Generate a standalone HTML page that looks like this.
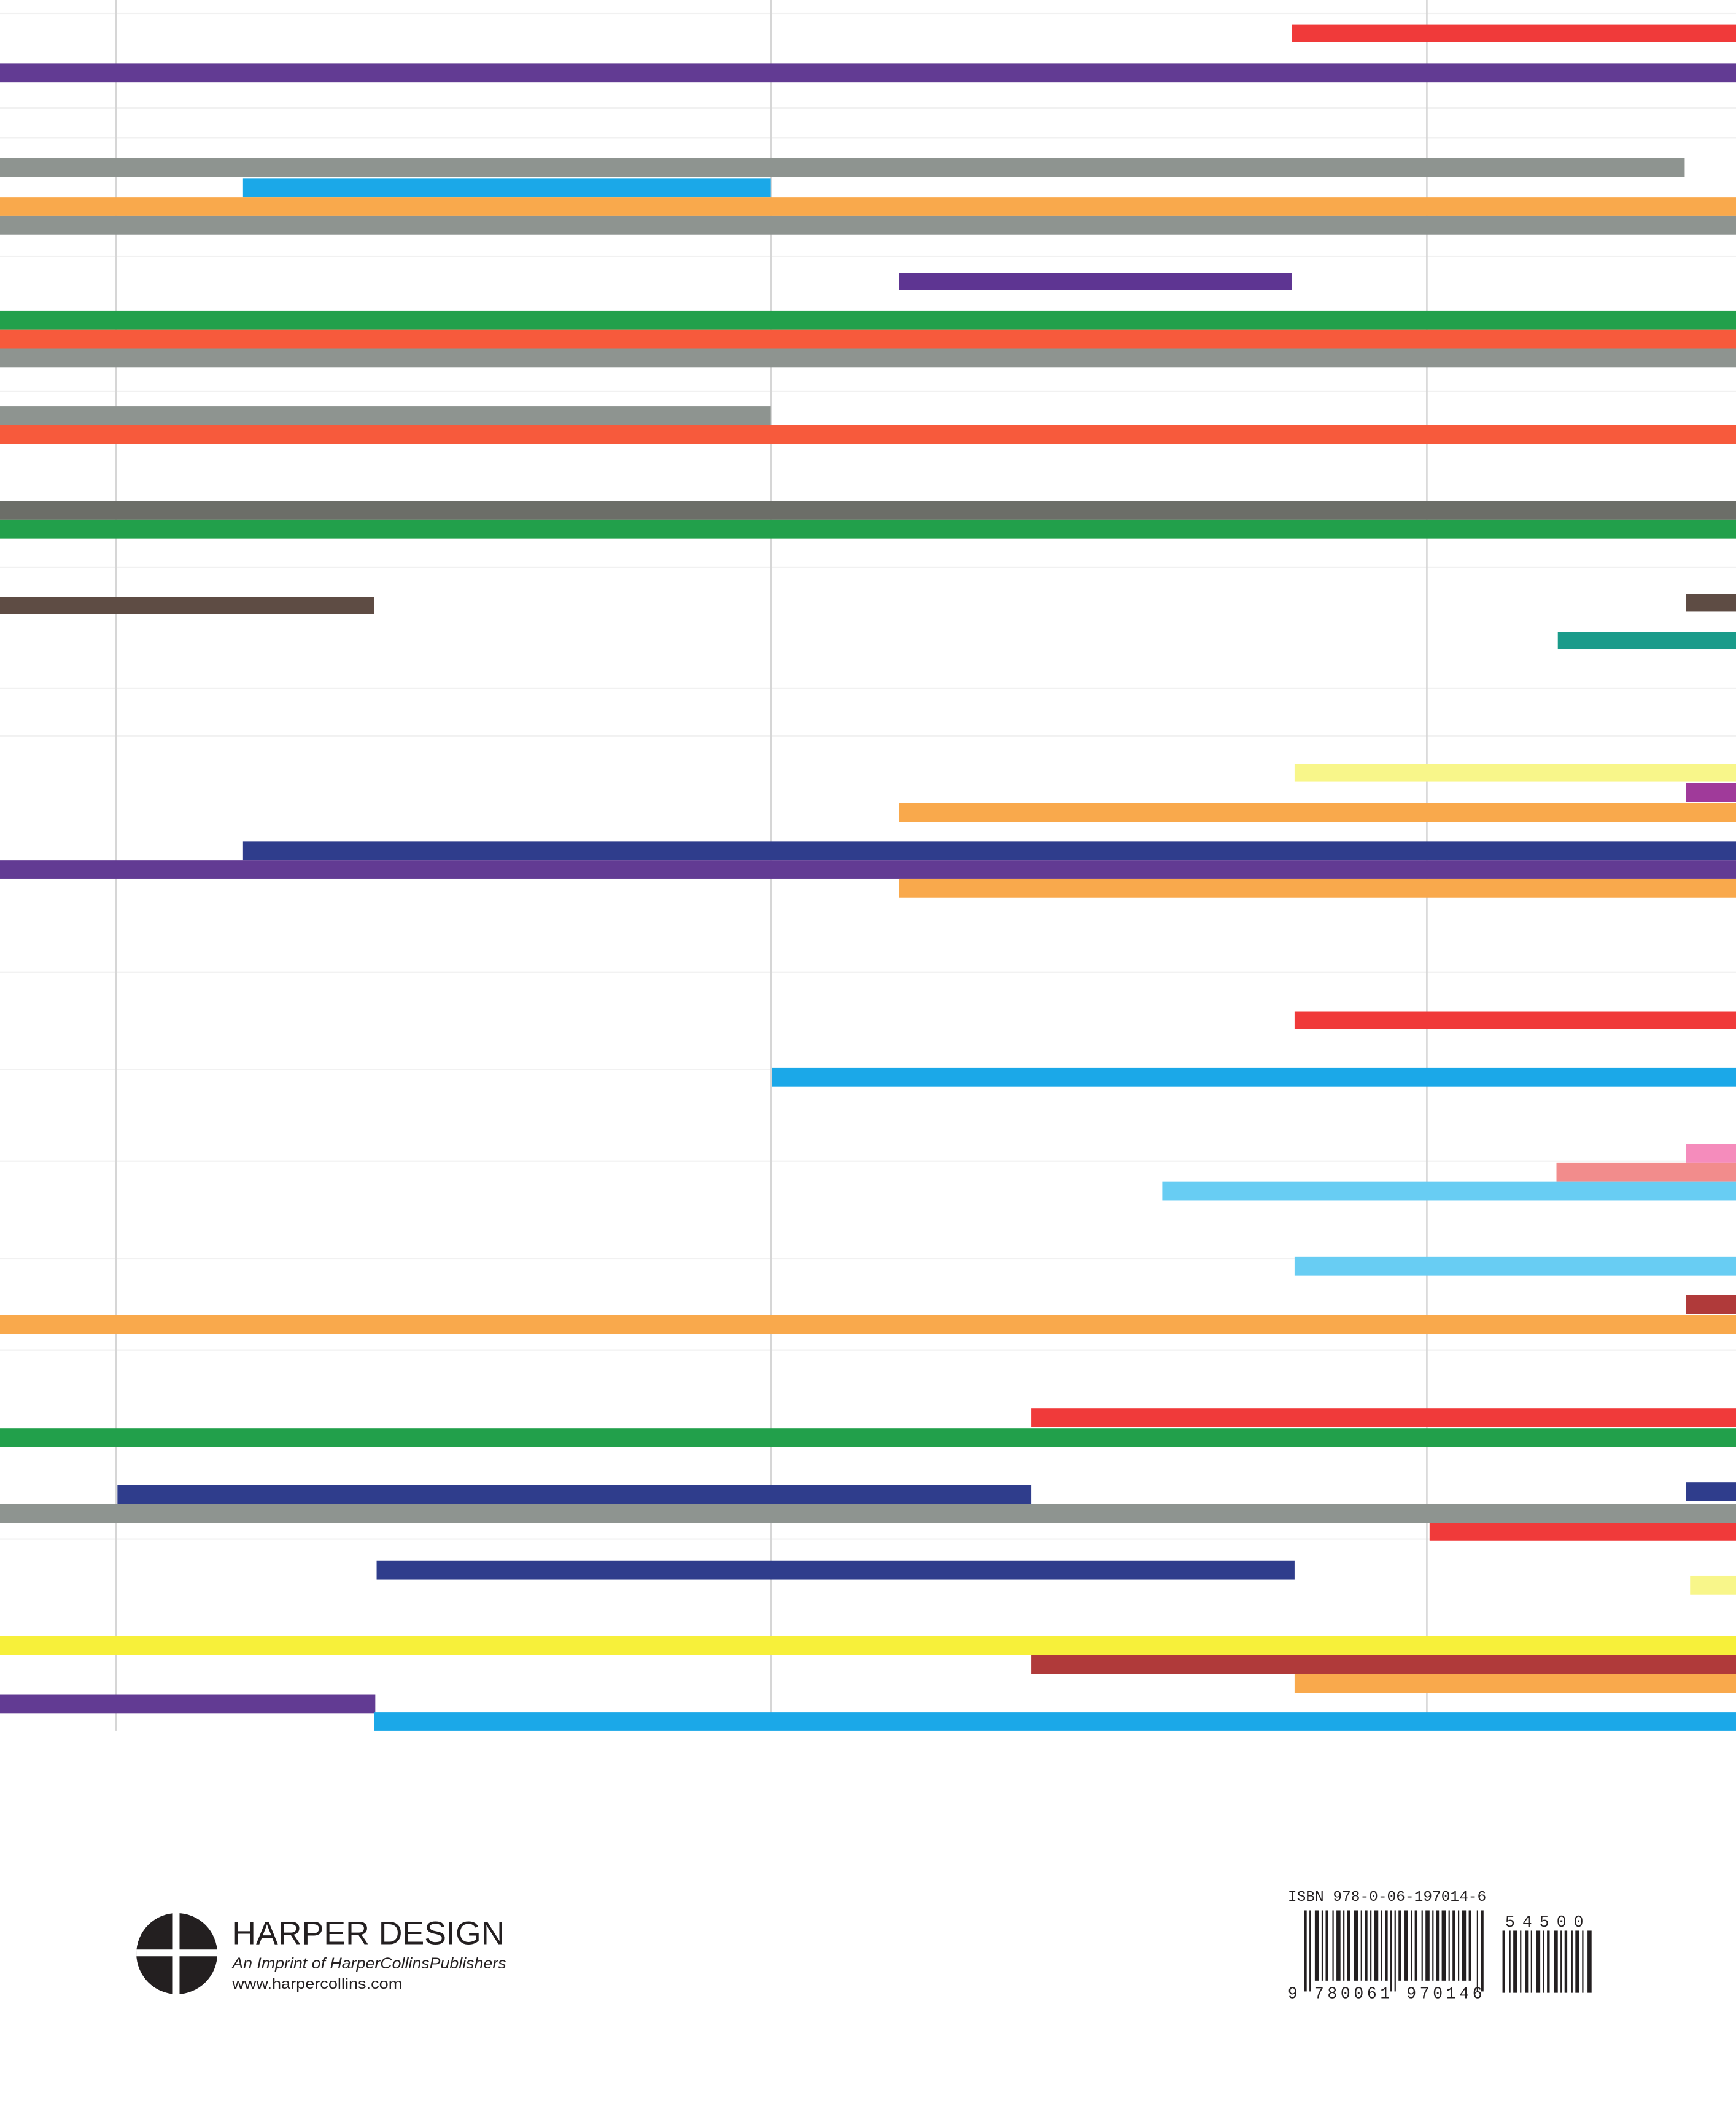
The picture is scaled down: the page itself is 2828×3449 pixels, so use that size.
<!DOCTYPE html>
<html><head><meta charset="utf-8"><style>html,body{margin:0;padding:0;background:#fff}svg{display:block}</style></head><body>
<svg width="2828" height="3449" viewBox="0 0 1286 1568" preserveAspectRatio="none" xmlns="http://www.w3.org/2000/svg">
<rect width="1286" height="1568" fill="#fff"/>
<g stroke="#f1f1f1" stroke-width="1">
<line x1="0" y1="10" x2="1286" y2="10"/><line x1="0" y1="80" x2="1286" y2="80"/><line x1="0" y1="102" x2="1286" y2="102"/><line x1="0" y1="190" x2="1286" y2="190"/><line x1="0" y1="290" x2="1286" y2="290"/><line x1="0" y1="420" x2="1286" y2="420"/><line x1="0" y1="510" x2="1286" y2="510"/><line x1="0" y1="545" x2="1286" y2="545"/><line x1="0" y1="720" x2="1286" y2="720"/><line x1="0" y1="792" x2="1286" y2="792"/><line x1="0" y1="860" x2="1286" y2="860"/><line x1="0" y1="932" x2="1286" y2="932"/><line x1="0" y1="1000" x2="1286" y2="1000"/><line x1="0" y1="1140" x2="1286" y2="1140"/>
</g>
<g stroke="#d6d6d6" stroke-width="1.2">
<line x1="86" y1="0" x2="86" y2="1282"/><line x1="571" y1="0" x2="571" y2="1270"/><line x1="1057" y1="0" x2="1057" y2="1270"/>
</g>
<g>
<rect x="957" y="18" width="329" height="13" fill="#f03a3a"/>
<rect x="0" y="47" width="1286" height="14" fill="#623b93"/>
<rect x="0" y="117" width="1248" height="14" fill="#8e9490"/>
<rect x="180" y="132" width="391" height="14" fill="#1ba8e8"/>
<rect x="0" y="146" width="1286" height="14" fill="#f9a94c"/>
<rect x="0" y="160" width="1286" height="14" fill="#8e9490"/>
<rect x="666" y="202" width="291" height="13" fill="#5e3592"/>
<rect x="0" y="230" width="1286" height="14" fill="#22a04b"/>
<rect x="0" y="244" width="1286" height="14" fill="#f75a3c"/>
<rect x="0" y="258" width="1286" height="14" fill="#8e9490"/>
<rect x="0" y="301" width="571" height="14" fill="#8e9490"/>
<rect x="0" y="315" width="1286" height="14" fill="#f75a3c"/>
<rect x="0" y="371" width="1286" height="14" fill="#6c6e68"/>
<rect x="0" y="385" width="1286" height="14" fill="#22a04b"/>
<rect x="0" y="442" width="277" height="13" fill="#5e4c44"/>
<rect x="1249" y="440" width="37" height="13" fill="#5e4c44"/>
<rect x="1154" y="468" width="132" height="13" fill="#1a9b8a"/>
<rect x="959" y="566" width="327" height="13" fill="#f8f68a"/>
<rect x="1249" y="580" width="37" height="14" fill="#a03a9a"/>
<rect x="666" y="595" width="620" height="14" fill="#f9a94c"/>
<rect x="180" y="623" width="1106" height="14" fill="#2f3d8c"/>
<rect x="0" y="637" width="1286" height="14" fill="#623b93"/>
<rect x="666" y="651" width="620" height="14" fill="#f9a94c"/>
<rect x="959" y="749" width="327" height="13" fill="#f03a3a"/>
<rect x="572" y="791" width="714" height="14" fill="#1ba8e8"/>
<rect x="1249" y="847" width="37" height="14" fill="#f58cbc"/>
<rect x="1153" y="861" width="133" height="14" fill="#f28c8c"/>
<rect x="861" y="875" width="425" height="14" fill="#68cdf3"/>
<rect x="959" y="931" width="327" height="14" fill="#68cdf3"/>
<rect x="1249" y="959" width="37" height="14" fill="#b03a3a"/>
<rect x="0" y="974" width="1286" height="14" fill="#f9a94c"/>
<rect x="764" y="1043" width="522" height="14" fill="#f03a3a"/>
<rect x="0" y="1058" width="1286" height="14" fill="#22a04b"/>
<rect x="87" y="1100" width="677" height="14" fill="#2f3d8c"/>
<rect x="1249" y="1098" width="37" height="14" fill="#2f3d8c"/>
<rect x="0" y="1114" width="1286" height="14" fill="#8e9490"/>
<rect x="1059" y="1128" width="227" height="13" fill="#f03a3a"/>
<rect x="279" y="1156" width="680" height="14" fill="#2f3d8c"/>
<rect x="1252" y="1167" width="34" height="14" fill="#f8f68a"/>
<rect x="0" y="1212" width="1286" height="14" fill="#f7f03a"/>
<rect x="764" y="1226" width="522" height="14" fill="#b03a3a"/>
<rect x="959" y="1240" width="327" height="14" fill="#f9a94c"/>
<rect x="0" y="1255" width="278" height="14" fill="#623b93"/>
<rect x="277" y="1268" width="1009" height="14" fill="#1ba8e8"/>
</g>
<g>
<circle cx="131" cy="1447" r="30" fill="#231f20"/>
<rect x="101" y="1444" width="60" height="5" fill="#fff"/>
<rect x="128" y="1417" width="5" height="60" fill="#fff"/>
<text x="172" y="1440" font-family="Liberation Sans, sans-serif" font-size="24" textLength="202" lengthAdjust="spacingAndGlyphs" fill="#231f20">HARPER DESIGN</text>
<text x="172" y="1458" font-family="Liberation Sans, sans-serif" font-size="11.5" font-style="italic" textLength="203" lengthAdjust="spacingAndGlyphs" fill="#231f20">An Imprint of HarperCollinsPublishers</text>
<text x="172" y="1473" font-family="Liberation Sans, sans-serif" font-size="11" textLength="126" lengthAdjust="spacingAndGlyphs" fill="#231f20">www.harpercollins.com</text>
</g>
<g font-family="Liberation Mono, monospace" fill="#231f20">
<text x="954" y="1408" font-size="11" textLength="147" lengthAdjust="spacingAndGlyphs">ISBN 978-0-06-197014-6</text>
<text x="1115" y="1427" font-size="12" textLength="58" lengthAdjust="spacing">54500</text>
<text x="954" y="1480" font-size="12" textLength="144" lengthAdjust="spacing">9 780061 970146</text>
</g>
<g fill="#231f20">
<rect x="966" y="1415" width="2" height="60"/><rect x="970" y="1415" width="1" height="60"/>
<rect x="974" y="1415" width="3" height="52"/><rect x="979" y="1415" width="1" height="52"/><rect x="982" y="1415" width="2" height="52"/><rect x="987" y="1415" width="1" height="52"/><rect x="990" y="1415" width="3" height="52"/><rect x="995" y="1415" width="1" height="52"/><rect x="998" y="1415" width="2" height="52"/><rect x="1003" y="1415" width="3" height="52"/><rect x="1008" y="1415" width="1" height="52"/><rect x="1011" y="1415" width="2" height="52"/><rect x="1015" y="1415" width="1" height="52"/><rect x="1018" y="1415" width="3" height="52"/><rect x="1023" y="1415" width="1" height="52"/><rect x="1026" y="1415" width="2" height="52"/>
<rect x="1030" y="1415" width="1" height="60"/><rect x="1033" y="1415" width="1" height="60"/>
<rect x="1036" y="1415" width="2" height="52"/><rect x="1040" y="1415" width="3" height="52"/><rect x="1045" y="1415" width="1" height="52"/><rect x="1048" y="1415" width="2" height="52"/><rect x="1053" y="1415" width="1" height="52"/><rect x="1056" y="1415" width="3" height="52"/><rect x="1061" y="1415" width="1" height="52"/><rect x="1064" y="1415" width="2" height="52"/><rect x="1068" y="1415" width="3" height="52"/><rect x="1073" y="1415" width="1" height="52"/><rect x="1076" y="1415" width="2" height="52"/><rect x="1080" y="1415" width="1" height="52"/><rect x="1083" y="1415" width="3" height="52"/><rect x="1088" y="1415" width="2" height="52"/>
<rect x="1094" y="1415" width="1" height="60"/><rect x="1097" y="1415" width="2" height="60"/>
<rect x="1113" y="1430" width="2" height="46"/><rect x="1118" y="1430" width="1" height="46"/><rect x="1121" y="1430" width="3" height="46"/><rect x="1126" y="1430" width="1" height="46"/><rect x="1130" y="1430" width="2" height="46"/><rect x="1134" y="1430" width="1" height="46"/><rect x="1138" y="1430" width="3" height="46"/><rect x="1143" y="1430" width="1" height="46"/><rect x="1146" y="1430" width="2" height="46"/><rect x="1151" y="1430" width="3" height="46"/><rect x="1156" y="1430" width="1" height="46"/><rect x="1159" y="1430" width="2" height="46"/><rect x="1164" y="1430" width="1" height="46"/><rect x="1167" y="1430" width="3" height="46"/><rect x="1172" y="1430" width="1" height="46"/><rect x="1176" y="1430" width="3" height="46"/>
</g>
</svg>
</body></html>
